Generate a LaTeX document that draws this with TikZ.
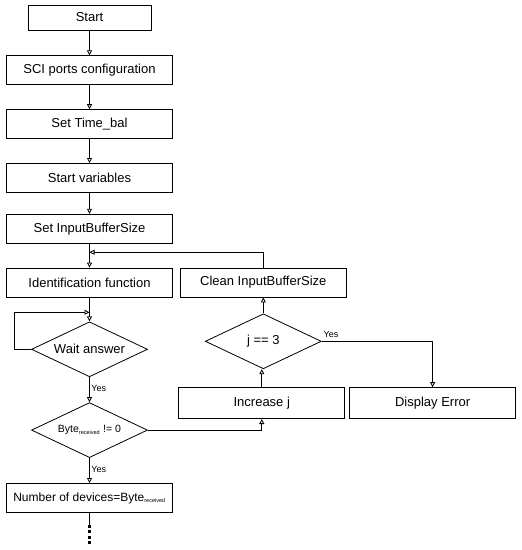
\documentclass[tikz,border=0pt]{standalone}
\usepackage{fontspec}
\setmainfont{Liberation Sans}
\usetikzlibrary{shapes.geometric, arrows.meta, positioning, calc}
\begin{document}
\begin{tikzpicture}[x=1pt,y=1pt,
  b/.style={rectangle,draw=black,line width=0.8pt,minimum width=166pt,minimum height=29pt,align=center,inner sep=2pt,font=\fontsize{13}{15}\selectfont},
  d/.style={diamond,draw=black,line width=0.8pt,minimum width=116pt,minimum height=55pt,aspect=2,inner sep=0pt,font=\fontsize{13}{15}\selectfont},
  a/.style={-{Triangle[open,length=5pt,width=5pt]},line width=0.8pt},
  lbl/.style={font=\fontsize{9}{10}\selectfont,inner sep=1.5pt}]
  \useasboundingbox (0,0) rectangle (522,-550);
  % main column
  \node[b,minimum width=123pt,minimum height=25pt](st) at (89.5,-17.5){Start};
  \node[b,below=25pt of st](sci){SCI ports configuration};
  \node[b,below=24pt of sci](tim){Set Time\_bal};
  \node[b,below=24pt of tim](var){Start variables};
  \node[b,below=21pt of var](ibs){Set InputBufferSize};
  \node[b,below=24pt of ibs](idf){Identification function};
  \node[d,below=24pt of idf](wait){Wait answer};
  \node[d,below=25pt of wait,font=\fontsize{10.5}{12}\selectfont](byte){Byte\textsubscript{\fontsize{5.5}{6}\selectfont received} != 0};
  \node[b,below=25pt of byte,font=\fontsize{12}{14}\selectfont](num){Number of devices=Byte\textsubscript{\fontsize{5.5}{6}\selectfont received}};
  % right column
  \node[b,right=7pt of idf](cln){Clean InputBufferSize};
  \node[d,below=16pt of cln](jeq){j == 3};
  \node[b,below=18pt of jeq,minimum height=31pt,xshift=-1.5pt](inc){Increase j};
  \node[b,right=4pt of inc,minimum height=31pt](err){Display Error};
  % junctions
  \coordinate (jn) at ($(ibs.south)!0.36!(idf.north)$);
  \coordinate (wj) at ($(idf.south)!0.62!(wait.north)$);
  \foreach \x/\y in {st/sci,sci/tim,tim/var,var/ibs,ibs/idf,idf/wait}{\draw[a](\x)--(\y);}
  \draw[a](wait)--node[right,lbl,pos=0.45]{Yes}(byte);
  \draw[a](byte)--node[right,lbl,pos=0.45]{Yes}(num);
  \draw[a](wait.west)--++(-17,0)|-(wj);
  \draw[a](cln.north)|-(jn);
  \draw[a](byte.east)-|(inc.south);
  \draw[a](inc)--(inc|-jeq.south);
  \draw[a](jeq)--(cln);
  \draw[a](jeq.east)-|node[pos=0,above right,lbl,yshift=2pt]{Yes}(err.north);
  \draw[line width=0.8pt](num.south)--++(0,-12)coordinate(dt);
  \draw[line width=2.4pt,dash pattern=on 3pt off 2.5pt](dt)--++(0,-21);
\end{tikzpicture}
\end{document}
